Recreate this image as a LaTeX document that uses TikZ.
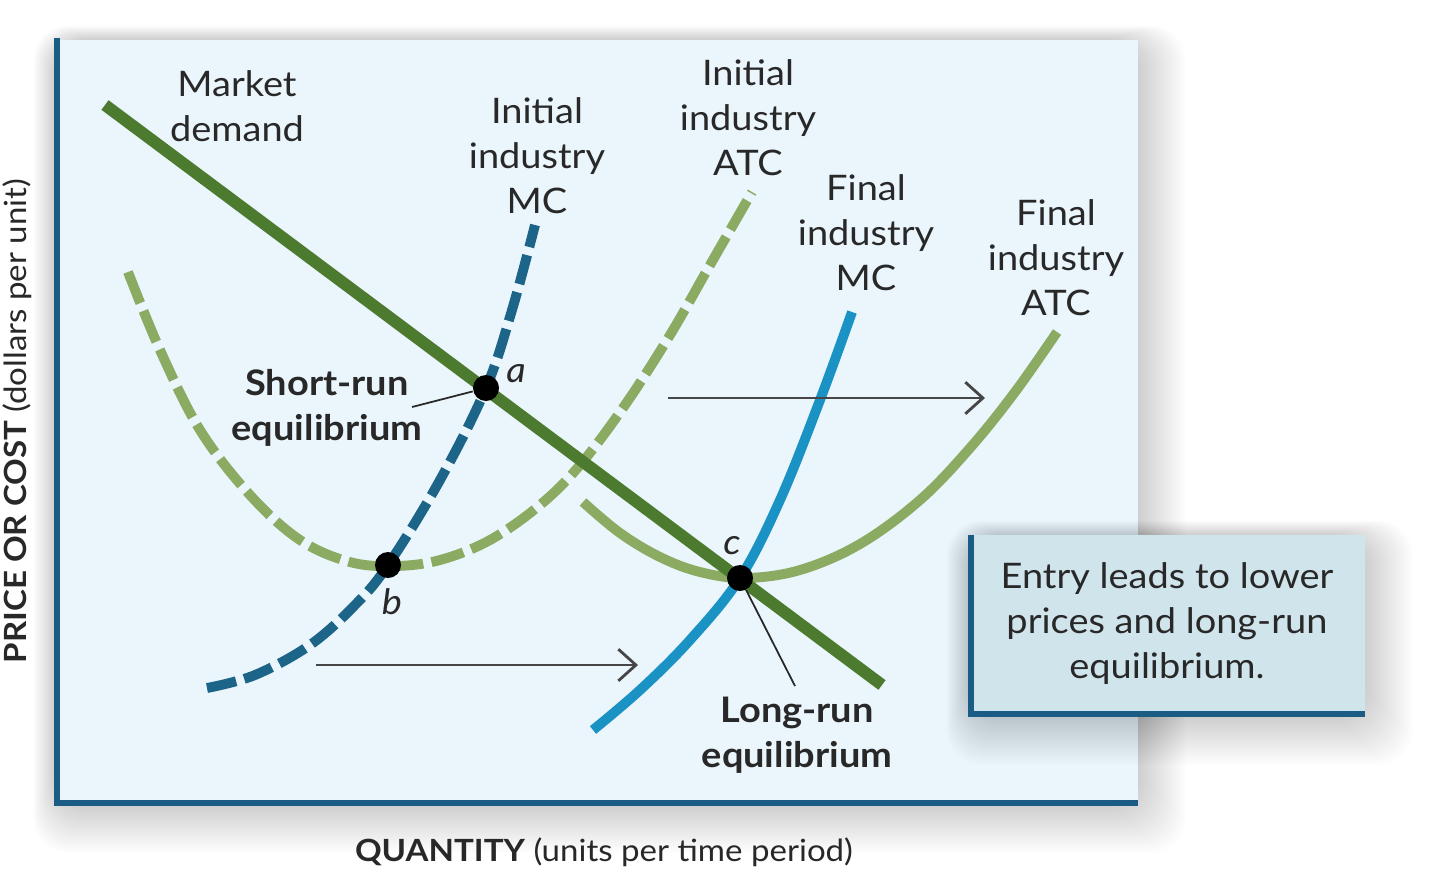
\documentclass[tikz,border=0pt]{standalone}
\usepackage{fontspec}
\setmainfont[FakeStretch=1.08]{Lato}
\usetikzlibrary{arrows.meta}
\definecolor{txt}{RGB}{40,40,40}
\definecolor{panel}{RGB}{234,245,252}
\definecolor{axisc}{RGB}{27,92,132}
\definecolor{demandc}{RGB}{76,122,46}
\definecolor{atcc}{RGB}{139,170,98}
\definecolor{mcinit}{RGB}{28,100,136}
\definecolor{mcfinal}{RGB}{26,146,196}
\definecolor{boxfill}{RGB}{208,228,236}
\definecolor{arrowc}{RGB}{70,70,70}
\tikzset{
  lbl/.style={font=\fontsize{10}{12.8}\selectfont, text=txt, align=center, inner sep=0pt},
  blbl/.style={lbl, font=\fontsize{10}{12.8}\selectfont\bfseries},
  ptlbl/.style={lbl, font=\fontsize{10}{12.8}\selectfont\itshape},
  axlbl/.style={lbl, font=\fontsize{8.7}{11}\selectfont},
  dot/.style={circle, fill=black, minimum size=0.26cm, inner sep=0pt},
  curve/.style={line width=2.8pt},
  mcdash/.style={dash pattern=on 8.5pt off 2.4pt},
  atcdash/.style={dash pattern=on 9.5pt off 2.4pt},
  shiftarrow/.style={draw=arrowc, line width=0.8pt, -{Straight Barb[length=5pt,width=9pt]}},
  leader/.style={draw=txt, line width=0.5pt},
  axisline/.style={draw=axisc, line width=1.8pt},
}
\begin{document}
\begin{tikzpicture}[x=0.01cm,y=-0.01cm]
\useasboundingbox (0,0) rectangle (1440,884);
\fill[white] (0,0) rectangle (1440,884);
% panel shadow
\foreach \i in {1,...,24}{
  \fill[black, opacity=0.007, rounded corners=10pt] (55-\i*0.9,40-\i*0.6) rectangle (1138+\i*2,805+\i*2);
}
\fill[panel] (55,40) rectangle (1138,805);
% axes
\draw[axisline] (57,38) -- (57,805);
\draw[axisline] (54,803) -- (1138,803);
% box shadow
\foreach \i in {1,...,24}{
  \fill[black, opacity=0.007, rounded corners=10pt] (968-\i*0.9,535-\i*0.6) rectangle (1365+\i*2,717+\i*2);
}
\fill[boxfill] (968,535) rectangle (1365,717);
\draw[axisc, line width=1.9pt] (971,535) -- (971,717);
\draw[axisc, line width=1.9pt] (968,714) -- (1365,714);
\node[lbl] (boxtext) at (1167,624) {Entry leads to lower\\prices and long-run\\equilibrium.};

% curves
\draw[curve, draw=atcc, atcdash] plot[smooth, tension=0.6] coordinates {
  (128,272) (160,350) (200,430) (250,495) (300,540) (350,562) (395,566)
  (440,560) (490,540) (540,505) (580,465) (625,405) (670,335) (710,265) (752,192)};
\draw[curve, draw=atcc] plot[smooth, tension=0.6] coordinates {
  (583,502) (620,533) (660,557) (700,572) (745,578) (800,570) (860,544)
  (920,500) (970,448) (1015,392) (1057,332)};
\draw[line width=3.4pt, draw=demandc] (105,105) -- (882,685);
\draw[curve, draw=mcinit, mcdash] plot[smooth, tension=0.6] coordinates {
  (207,688) (255,675) (310,645) (355,605) (388,565) (440,480) (486,388) (512,310) (535,225)};
\draw[curve, draw=mcfinal] plot[smooth, tension=0.6] coordinates {
  (593,730) (640,690) (690,640) (740,578) (780,500) (820,400) (852,312)};

% shift arrows
\coordinate (arr1s) at (668,398);
\coordinate (arr1e) at (985,398);
\coordinate (arr2s) at (316,665);
\coordinate (arr2e) at (638,665);
\draw[shiftarrow] (arr1s) -- (arr1e);
\draw[shiftarrow] (arr2s) -- (arr2e);

% equilibrium points
\node[dot] (a) at (486,388) {};
\node[dot] (b) at (388,565) {};
\node[dot] (c) at (740,578) {};
\node[ptlbl] (alab) at (516,374) {a};
\node[ptlbl] (blab) at (392,602) {b};
\node[ptlbl] (clab) at (732,546) {c};

% leader labels
\node[blbl] (sr) at (327,408) {Short-run\\equilibrium};
\node[blbl] (lr) at (797,735) {Long-run\\equilibrium};
\coordinate (srl) at (412,407);
\coordinate (lrl) at (795,686);
\draw[leader] (srl) -- (a);
\draw[leader] (lrl) -- (c);

% curve labels
\node[lbl] (md) at (237,106) {Market\\demand};
\node[lbl] (imc) at (537,156) {Initial\\industry\\MC};
\node[lbl] (iatc) at (748,118) {Initial\\industry\\ATC};
\node[lbl] (fmc) at (866,233) {Final\\industry\\MC};
\node[lbl] (fatc) at (1056,258) {Final\\industry\\ATC};

% axis labels
\node[axlbl, rotate=90] (ylab) at (17,421) {\textbf{PRICE OR COST} (dollars per unit)};
\node[axlbl] (xlab) at (604,852) {\textbf{QUANTITY} (units per time period)};
\end{tikzpicture}
\end{document}
